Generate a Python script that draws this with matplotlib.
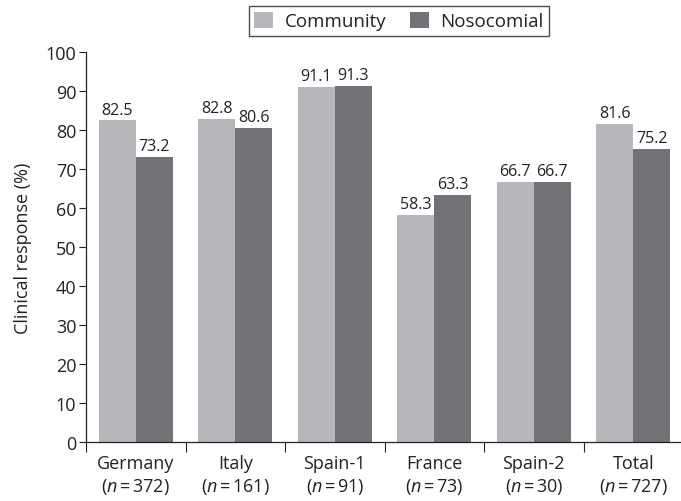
import numpy as np
import matplotlib
matplotlib.use('Agg')
from matplotlib import pyplot as plt

plt.rcParams['font.family'] = ['Open Sans', 'DejaVu Sans']
plt.rcParams['mathtext.fontset'] = 'custom'
plt.rcParams['mathtext.it'] = 'Open Sans:italic'
plt.rcParams['mathtext.rm'] = 'Open Sans'

countries = ['Germany', 'Italy', 'Spain-1', 'France', 'Spain-2', 'Total']
sizes = [372, 161, 91, 73, 30, 727]
community = [82.5, 82.8, 91.1, 58.3, 66.7, 81.6]
nosocomial = [73.2, 80.6, 91.3, 63.3, 66.7, 75.2]
series_names = ['Community', 'Nosocomial']

light = '#b6b7bb'
dark = '#727377'
ink = '#222222'

fig = plt.figure(figsize=(6.81, 5.02), dpi=100)
ax = fig.add_axes([86 / 681, 1 - 442.7 / 502, 597 / 681, 389.4 / 502])

x = np.arange(len(countries))
w = 0.37
b1 = ax.bar(x - w / 2, community, w, color=light, label=series_names[0])
b2 = ax.bar(x + w / 2, nosocomial, w, color=dark, label=series_names[1])

for bars in (b1, b2):
    for r in bars:
        ax.annotate(f'{r.get_height():.1f}', (r.get_x() + r.get_width() / 2, r.get_height()),
                    xytext=(0, 2), textcoords='offset points',
                    ha='center', va='bottom', fontsize=11.5, color=ink)

ax.set_xlim(-0.5, len(countries) - 0.5)
ax.set_ylim(0, 100)
ax.set_yticks(np.arange(0, 101, 10))
ax.tick_params(axis='y', labelsize=13, length=5, width=0.8, colors=ink, pad=2)

# category ticks sit between groups, labels centred under groups
ax.set_xticks(np.arange(len(countries) + 1) - 0.5)
ax.set_xticklabels([])
ax.tick_params(axis='x', which='major', length=7, width=0.8, color=ink)
ax.set_xticks(x, minor=True)
ax.set_xticklabels([f'{c}\n($n\\,$=$\\,${n})' for c, n in zip(countries, sizes)], minor=True,
                   linespacing=1.25)
ax.tick_params(axis='x', which='minor', length=0, labelsize=13, labelcolor=ink, pad=9)

for s in ['top', 'right']:
    ax.spines[s].set_visible(False)
for s in ['left', 'bottom']:
    ax.spines[s].set_linewidth(0.9)
    ax.spines[s].set_color(ink)

ax.set_ylabel('Clinical response (%)', fontsize=13, color=ink, labelpad=10)

leg = fig.legend(loc='center', bbox_to_anchor=(399 / 681, 1 - 22 / 502), ncol=2,
                 fontsize=13.5, frameon=True, fancybox=False, edgecolor=ink,
                 handlelength=1.0, handleheight=1.0, handletextpad=0.6,
                 columnspacing=1.3, borderpad=0.3)
leg.get_frame().set_linewidth(1.0)
for t in leg.get_texts():
    t.set_color(ink)

fig.savefig('out.png', dpi=100)
